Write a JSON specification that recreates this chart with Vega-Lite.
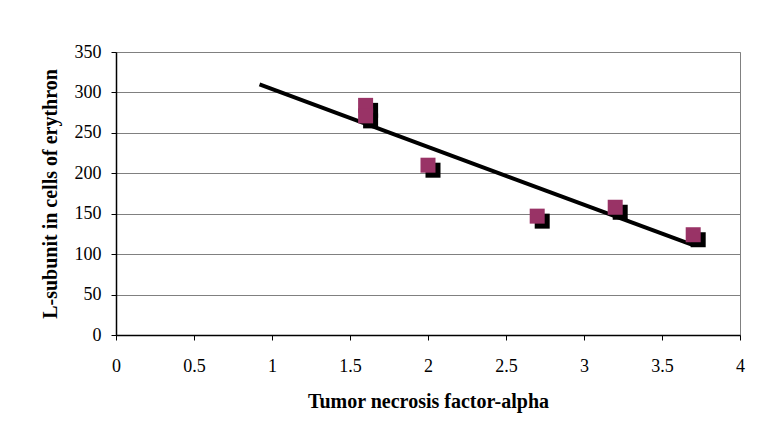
{
  "$schema": "https://vega.github.io/schema/vega-lite/v6.json",
  "width": 624,
  "height": 283,
  "autosize": "none",
  "padding": {"left": 116, "top": 52, "right": 26, "bottom": 106},
  "background": "white",
  "config": {
    "view": {"stroke": "#808080", "strokeWidth": 1},
    "font": "Liberation Serif",
    "axis": {
      "labelFont": "Liberation Serif",
      "titleFont": "Liberation Serif",
      "labelFontSize": 18,
      "titleFontSize": 20,
      "titleFontWeight": "bold",
      "labelColor": "#000",
      "titleColor": "#000",
      "domainColor": "#000",
      "domainWidth": 1.5,
      "tickColor": "#000",
      "tickSize": 5,
      "gridColor": "#808080",
      "gridWidth": 1
    }
  },
  "datasets": {
    "points": [
      {"tnf": 1.6, "lsub": 284},
      {"tnf": 1.6, "lsub": 271},
      {"tnf": 2.0, "lsub": 210},
      {"tnf": 2.7, "lsub": 147},
      {"tnf": 3.2, "lsub": 158},
      {"tnf": 3.7, "lsub": 124}
    ],
    "trend": [
      {"tnf": 0.92, "lsub": 310},
      {"tnf": 3.7, "lsub": 111}
    ]
  },
  "layer": [
    {
      "data": {"name": "trend"},
      "mark": {"type": "line", "color": "#000", "strokeWidth": 4, "strokeCap": "butt"},
      "encoding": {
        "x": {
          "field": "tnf", "type": "quantitative",
          "scale": {"domain": [0, 4], "nice": false, "zero": false},
          "axis": {"values": [0, 0.5, 1, 1.5, 2, 2.5, 3, 3.5, 4], "format": "~g", "grid": false, "title": "Tumor necrosis factor-alpha", "labelPadding": 17, "titlePadding": 16, "labelFlush": false}
        },
        "y": {
          "field": "lsub", "type": "quantitative",
          "scale": {"domain": [0, 350], "nice": false},
          "axis": {"values": [0, 50, 100, 150, 200, 250, 300, 350], "format": "d", "grid": true, "title": "L-subunit in cells of erythron", "labelPadding": 10, "titlePadding": 14, "labelFlush": false}
        }
      }
    },
    {
      "data": {"name": "points"},
      "mark": {"type": "point", "shape": "square", "filled": true, "size": 225, "color": "#000", "opacity": 1, "xOffset": 5, "yOffset": 5},
      "encoding": {
        "x": {"field": "tnf", "type": "quantitative"},
        "y": {"field": "lsub", "type": "quantitative"}
      }
    },
    {
      "data": {"name": "points"},
      "mark": {"type": "point", "shape": "square", "filled": true, "size": 225, "color": "#993366", "opacity": 1},
      "encoding": {
        "x": {"field": "tnf", "type": "quantitative"},
        "y": {"field": "lsub", "type": "quantitative"}
      }
    }
  ]
}
